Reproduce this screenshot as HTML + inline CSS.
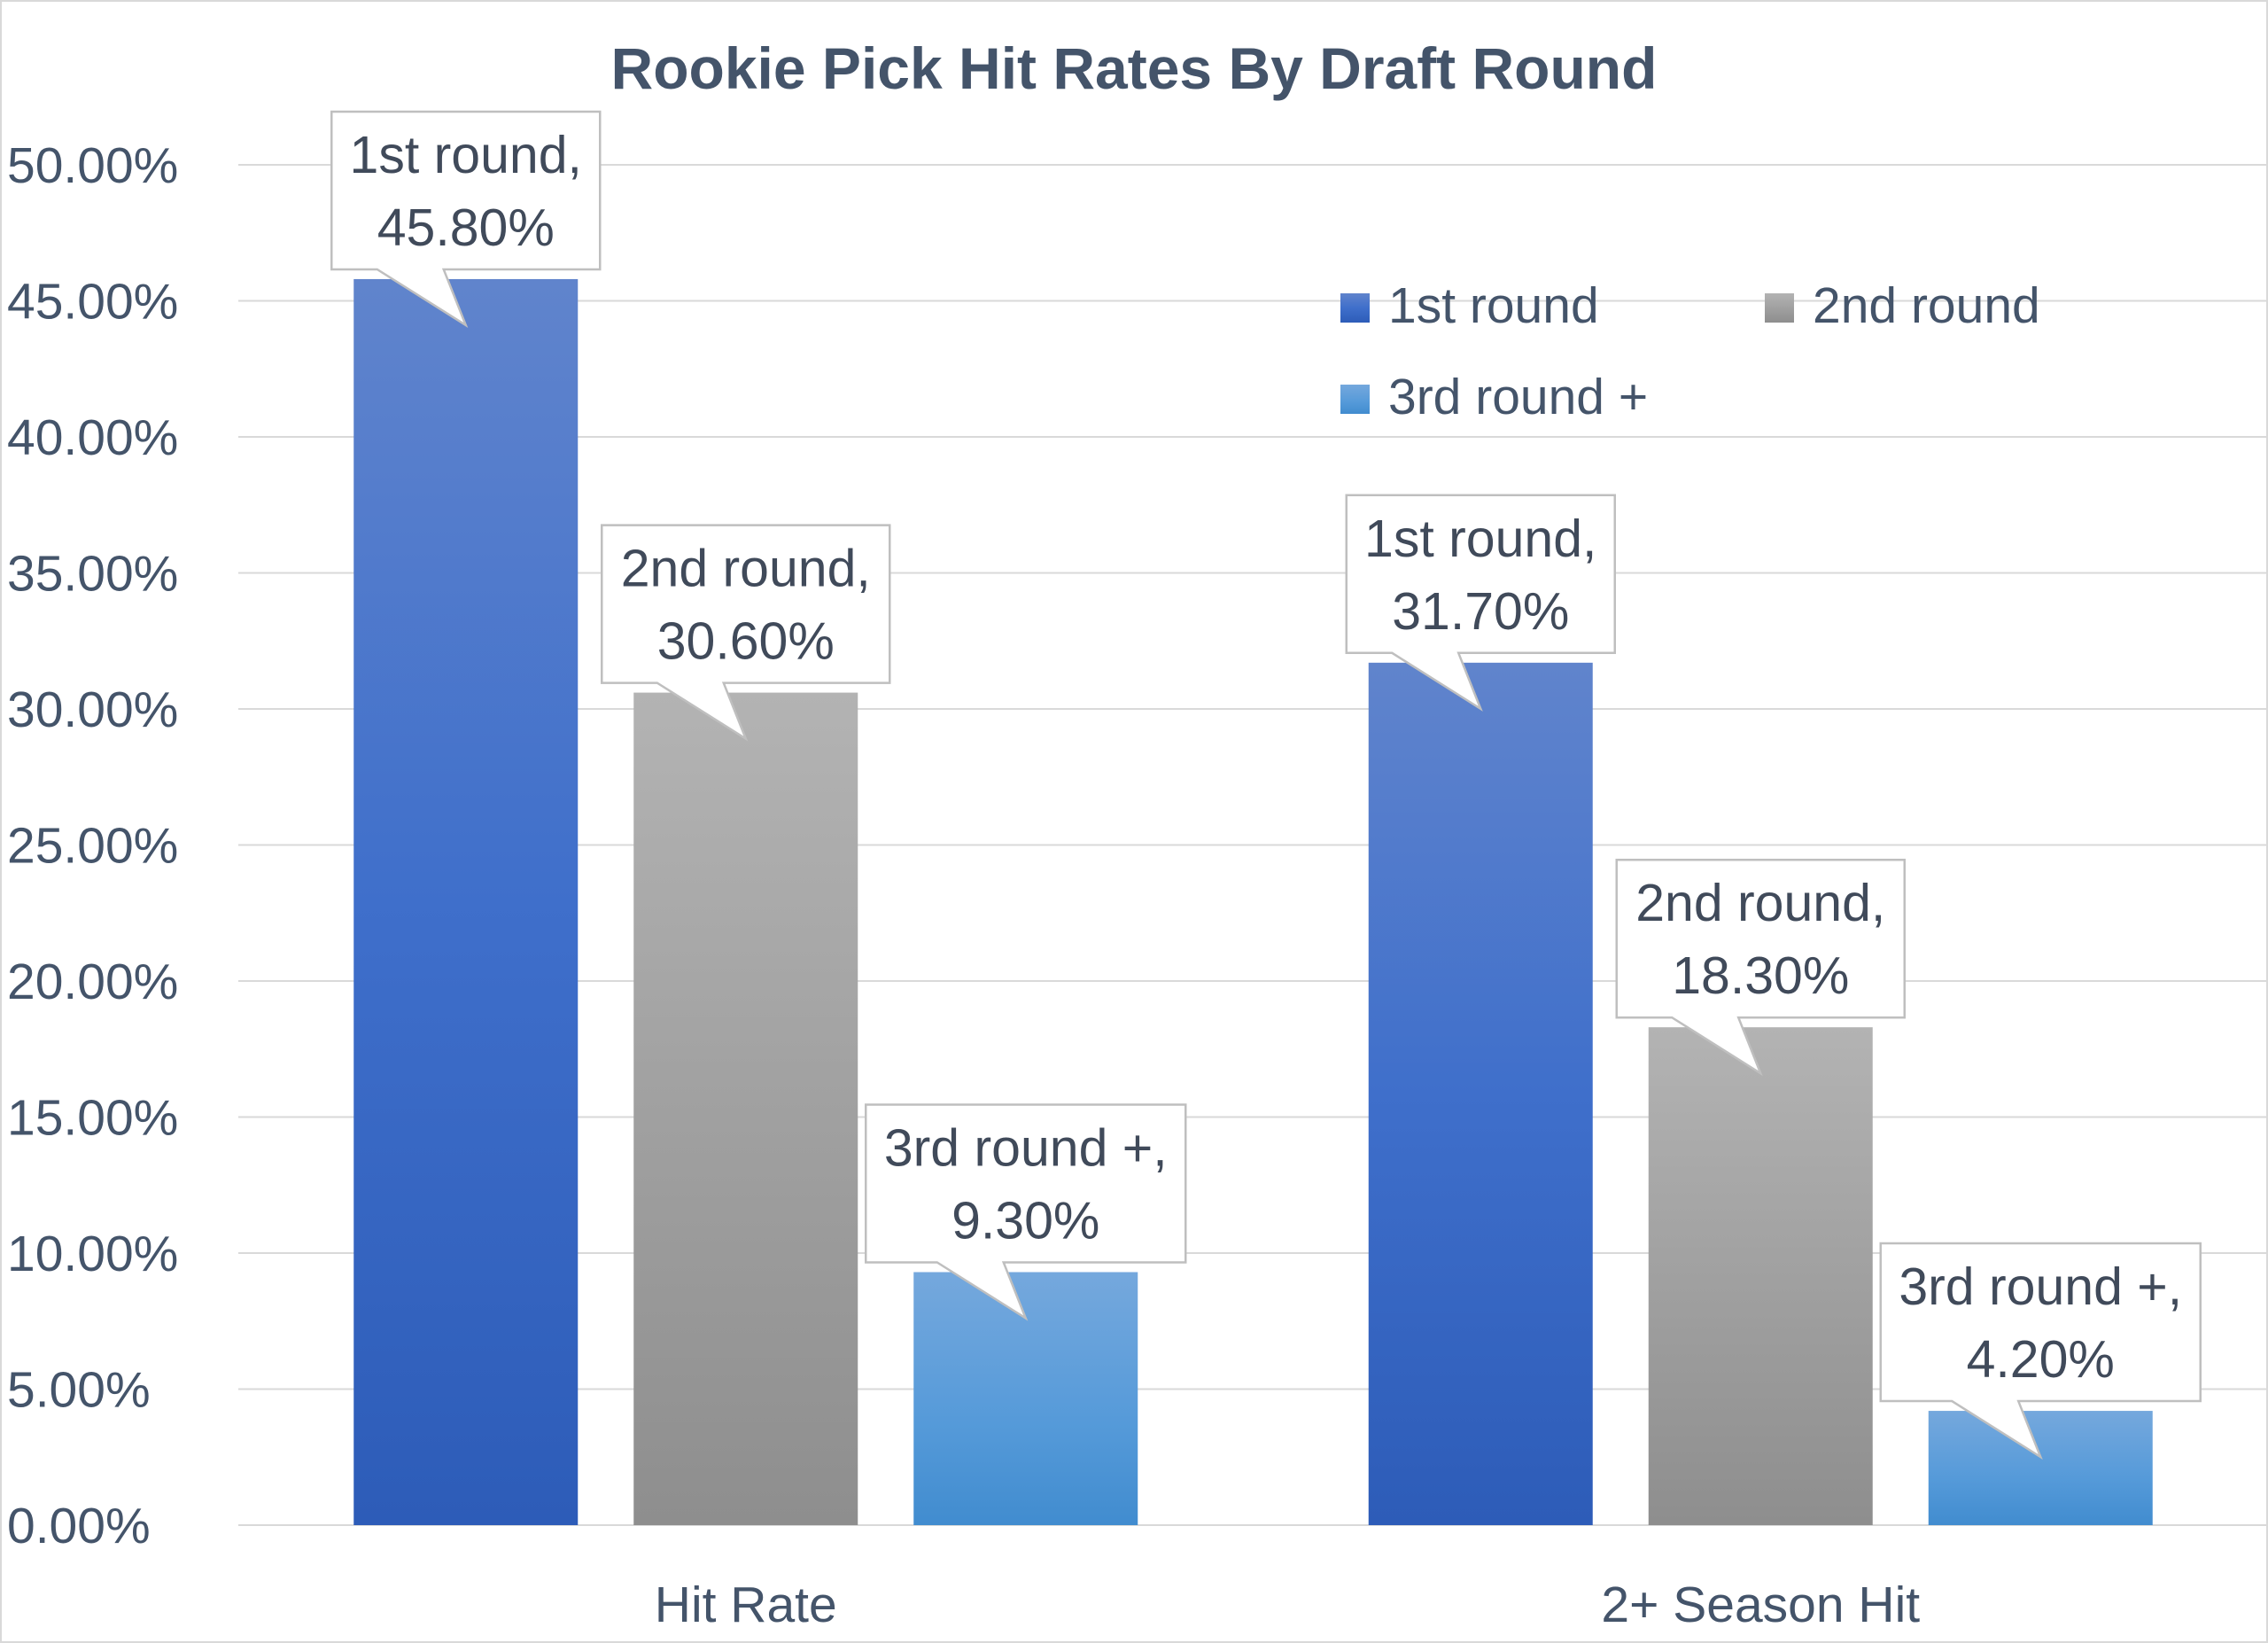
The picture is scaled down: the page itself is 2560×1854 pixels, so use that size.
<!DOCTYPE html>
<html><head><meta charset="utf-8"><style>
html,body{margin:0;padding:0;background:#fff}
svg{display:block;font-family:"Liberation Sans",sans-serif}
</style></head><body>
<svg id="chart" width="2560" height="1854" viewBox="0 0 2560 1854" xmlns="http://www.w3.org/2000/svg">
<defs>
<linearGradient id="g0" x1="0" y1="0" x2="0" y2="1"><stop offset="0" stop-color="#6084cc"/><stop offset="0.5" stop-color="#3f6fcb"/><stop offset="1" stop-color="#2d5cb8"/></linearGradient>
<linearGradient id="g1" x1="0" y1="0" x2="0" y2="1"><stop offset="0" stop-color="#b3b3b3"/><stop offset="1" stop-color="#8e8e8e"/></linearGradient>
<linearGradient id="g2" x1="0" y1="0" x2="0" y2="1"><stop offset="0" stop-color="#75a8dd"/><stop offset="0.6" stop-color="#559ad9"/><stop offset="1" stop-color="#418ccf"/></linearGradient>
</defs>
<rect x="1" y="1" width="2558" height="1852" fill="#fff" stroke="#d9d9d9" stroke-width="2"/>
<text x="1280" y="100" text-anchor="middle" font-size="66" font-weight="bold" fill="#44546a">Rookie Pick Hit Rates By Draft Round</text>
<g id="grid"></g><g id="bars"></g><g id="labels"></g>
<g>
<rect x="1513" y="331" width="33" height="33" fill="url(#g0)"/>
<text x="1567" y="364" font-size="57" fill="#44546a">1st round</text>
<rect x="1992" y="331" width="33" height="33" fill="url(#g1)"/>
<text x="2046" y="364" font-size="57" fill="#44546a">2nd round</text>
<rect x="1513" y="434" width="33" height="33" fill="url(#g2)"/>
<text x="1567" y="467" font-size="57" fill="#44546a">3rd round +</text>
</g>
</svg>
<script>
const categories = ["Hit Rate", "2+ Season Hit"];
const series = ["1st round", "2nd round", "3rd round +"];
const s1 = [45.8, 31.7];
const s2 = [30.6, 18.3];
const s3 = [9.3, 4.2];
const yTicks = [0, 5, 10, 15, 20, 25, 30, 35, 40, 45, 50];
const yTickLabels = ["0.00%","5.00%","10.00%","15.00%","20.00%","25.00%","30.00%","35.00%","40.00%","45.00%","50.00%"];

const NS = "http://www.w3.org/2000/svg";
const y0 = 1721, y50 = 186, plotL = 269, plotR = 2560;
function y(v){ return y0 - (v/50)*(y0-y50); }
const catW = (2560-269)/2;
function catCenter(i){ return plotL + catW*(i+0.5) + 0; }
const barW = 253, barStep = 316;
function el(tag, attrs, parent){ const e=document.createElementNS(NS,tag); for(const k in attrs) e.setAttribute(k,attrs[k]); parent.appendChild(e); return e; }
const grid=document.getElementById('grid'), bars=document.getElementById('bars'), labels=document.getElementById('labels');
yTicks.forEach((t,i)=>{
  const l=el('line',{x1:plotL,x2:plotR,y1:y(t),y2:y(t),stroke:'#d9d9d9','stroke-width':2},grid);
  
  
  const tx=el('text',{x:8,y:y(t)+20,'font-size':57,fill:'#44546a'},grid);
  tx.textContent=yTickLabels[i];
  
  
});
categories.forEach((c,i)=>{
  const tx=el('text',{x:catCenter(i),y:1830,'font-size':57,fill:'#44546a','text-anchor':'middle'},grid);
  tx.textContent=c;
  
  
});
const all=[s1,s2,s3], boxW=[303,325,361];
categories.forEach((c,i)=>{
  all.forEach((s,j)=>{
    const cx=catCenter(i)+(j-1)*barStep;
    const top=y(s[i]);
    const r=el('rect',{x:cx-barW/2,y:top,width:barW,height:y0-top,fill:'url(#g'+j+')'},bars);
    
    
    const bw=boxW[j], bh=178, bb=top-11, bt=bb-bh, bl=cx-bw/2, br=cx+bw/2;
    const tip=top+52;
    const d=`M${bl} ${bt} L${br} ${bt} L${br} ${bb} L${cx-25} ${bb} L${cx} ${tip} L${cx-100} ${bb} L${bl} ${bb} Z`;
    const p=el('path',{d:d,fill:'#fff',stroke:'#bfbfbf','stroke-width':2.5},labels);
    
    
    const t1=el('text',{x:cx,y:bt+69,'font-size':59,fill:'#404a5a','text-anchor':'middle'},labels);
    t1.textContent=series[j]+',';
    
    
    const t2=el('text',{x:cx,y:bt+151,'font-size':59,fill:'#404a5a','text-anchor':'middle'},labels);
    t2.textContent=s[i].toFixed(2)+'%';
    
    
  });
});
</script>
</body></html>
